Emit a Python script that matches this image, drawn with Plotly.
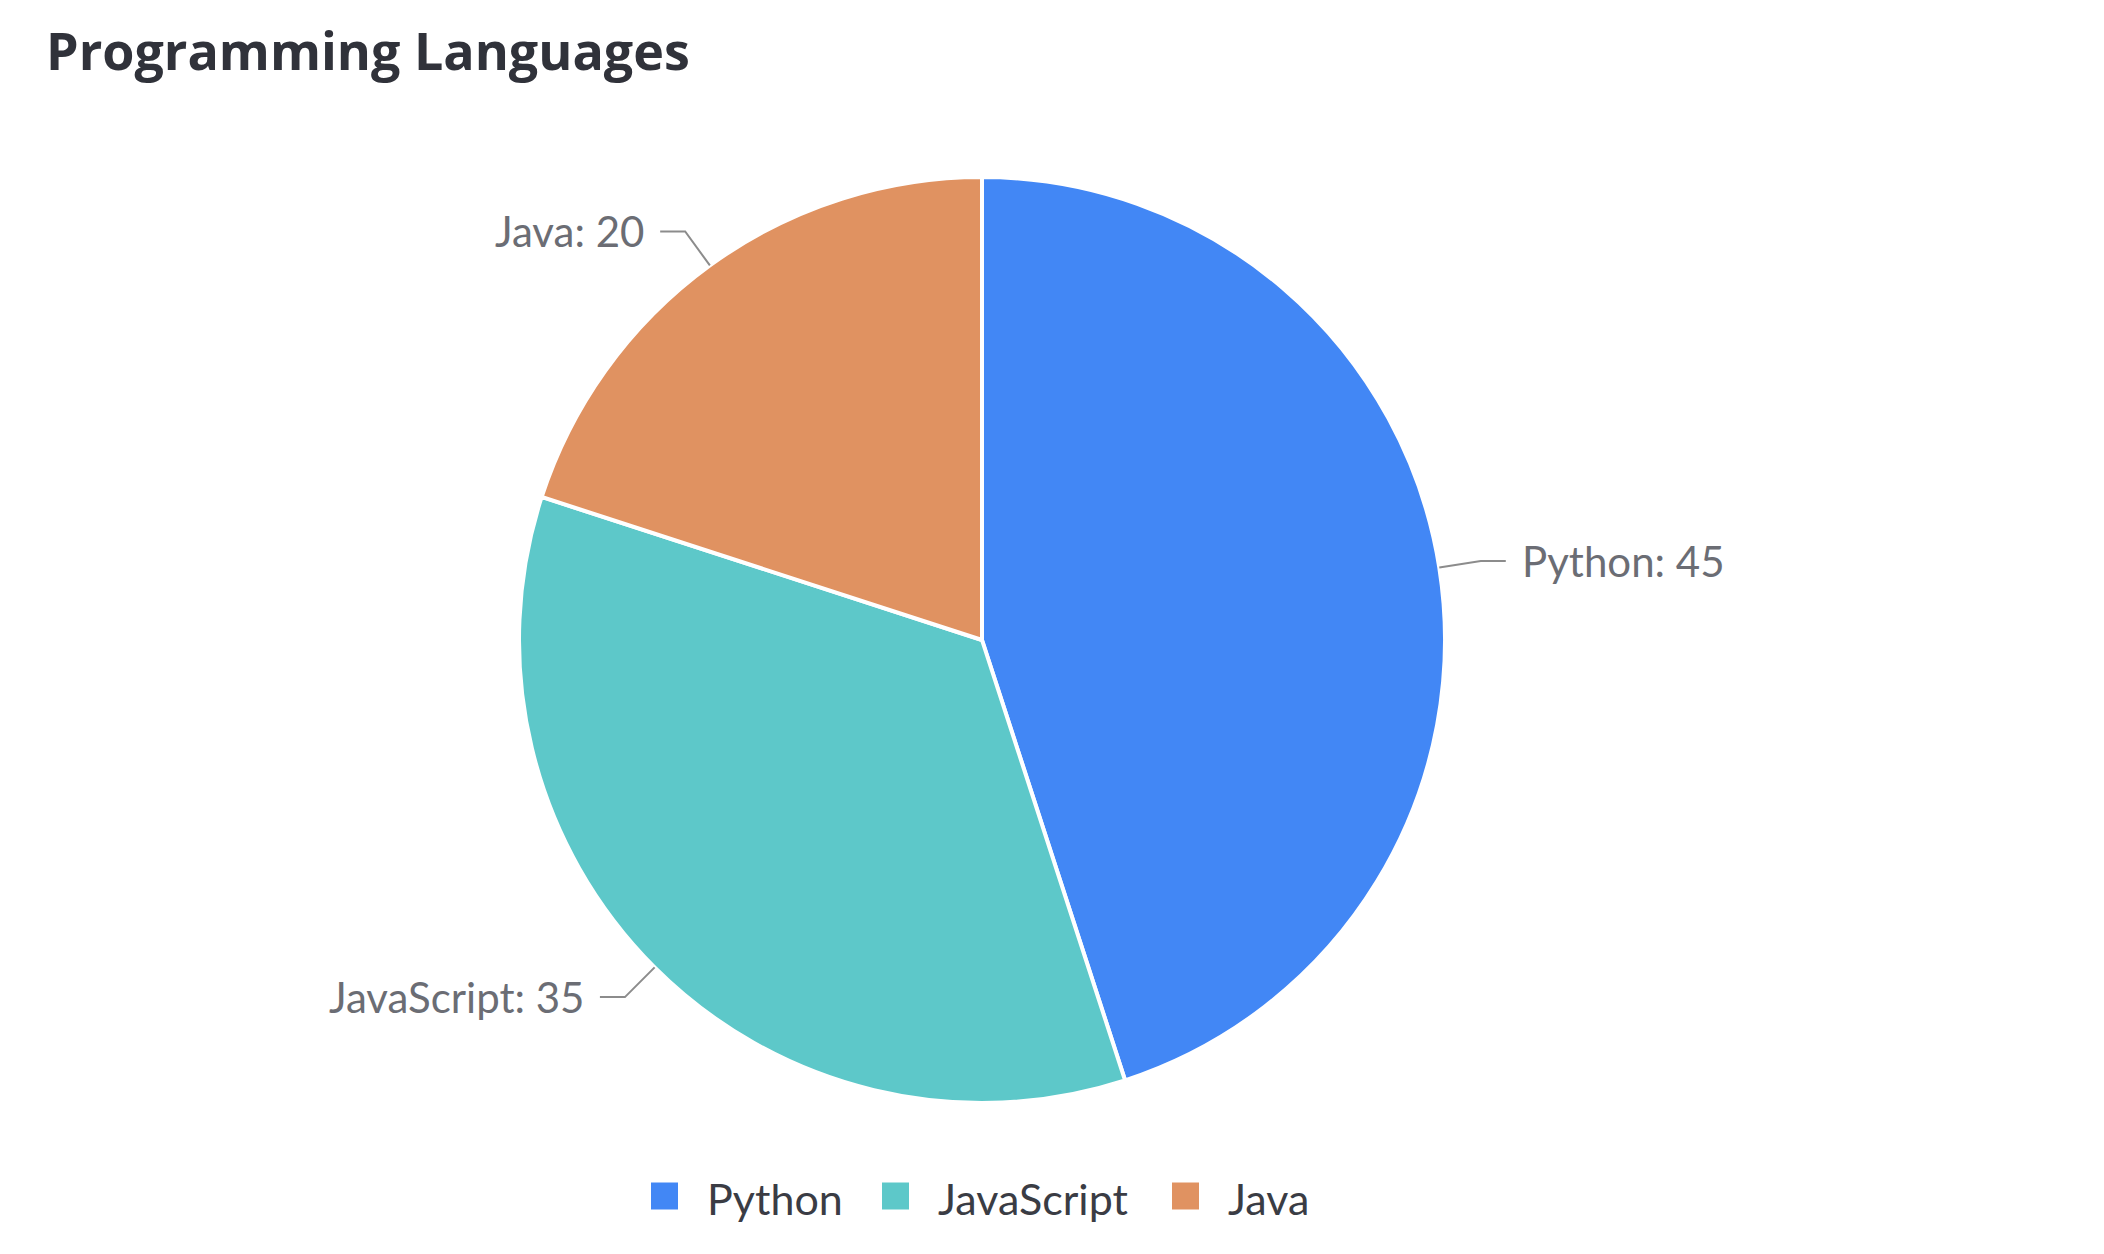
import math
import plotly.graph_objects as go

# ---- data ----
categories = ["Python", "JavaScript", "Java"]
values = [45, 35, 20]
colors = ["#4287f5", "#5dc8c9", "#e09261"]
title_text = "Programming Languages"

# ---- layout constants (pixels, page coordinates) ----
W, H = 2104, 1254
OFF = 8  # default body margin of the page
CX, CY, R = 982, 640, 463
ELBOW_R = 505
HSEG = 25
GAP = 14
LABEL_FONT = dict(family="Lato", size=42, color="#6b6d74")
LINE_COLOR = "#8c8c8c"


def px(x):
    return (x - OFF) / W


def py(y):
    return 1 - (y - OFF) / H


fig = go.Figure()
fig.add_trace(go.Pie(
    labels=categories,
    values=values,
    sort=False,
    direction="clockwise",
    rotation=0,
    textinfo="none",
    hoverinfo="label+value",
    marker=dict(colors=colors, line=dict(color="white", width=4)),
    domain=dict(x=[px(CX - R), px(CX + R)], y=[py(CY + R), py(CY - R)]),
    showlegend=False,
))

shapes = []
annotations = []
total = sum(values)
cum = 0
for cat, v in zip(categories, values):
    mid = (cum + v / 2) / total * 2 * math.pi
    cum += v
    sx, sy = CX + R * math.sin(mid), CY - R * math.cos(mid)
    ex, ey = CX + ELBOW_R * math.sin(mid), CY - ELBOW_R * math.cos(mid)
    right = math.sin(mid) >= 0
    hx = ex + (HSEG if right else -HSEG)
    shapes.append(dict(
        type="path", xref="paper", yref="paper",
        path=f"M {px(sx)},{py(sy)} L {px(ex)},{py(ey)} L {px(hx)},{py(ey)}",
        line=dict(color=LINE_COLOR, width=2),
    ))
    tx = hx + (GAP if right else -GAP)
    annotations.append(dict(
        text=f"{cat}: {v}", x=px(tx), y=py(ey), xref="paper", yref="paper",
        xanchor="left" if right else "right", yanchor="middle",
        showarrow=False, font=LABEL_FONT,
    ))

# ---- custom legend (large square swatches) ----
legend_sq_left = [651, 882, 1172]
LEG_Y = 1198
SQ = 27
for cat, c, lx in zip(categories, colors, legend_sq_left):
    shapes.append(dict(
        type="rect", xref="paper", yref="paper",
        x0=px(lx), x1=px(lx + SQ), y0=py(LEG_Y + SQ / 2 - 2), y1=py(LEG_Y - SQ / 2 - 2),
        fillcolor=c, line=dict(width=0),
    ))
    annotations.append(dict(
        text=cat, x=px(lx + 54), y=py(LEG_Y), xref="paper", yref="paper",
        xanchor="left", yanchor="middle", showarrow=False,
        font=dict(family="Lato", size=43, color="#3a3c44"),
    ))

annotations.append(dict(
    text=f"<b>{title_text}</b>", x=px(44), y=py(50), xref="paper", yref="paper",
    xanchor="left", yanchor="middle", showarrow=False,
    font=dict(family="Open Sans", size=52, color="#30323a"),
))

fig.update_layout(
    width=W, height=H,
    margin=dict(l=0, r=0, t=0, b=0),
    paper_bgcolor="white", plot_bgcolor="white",
    shapes=shapes, annotations=annotations,
    showlegend=False,
)

fig.write_html("out.html")
